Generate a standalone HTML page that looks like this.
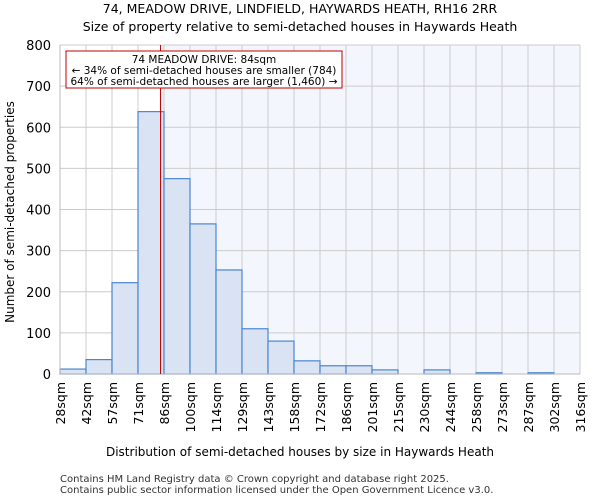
<!DOCTYPE html>
<html><head><meta charset="utf-8"><style>
body{margin:0;background:#fff;font-family:"DejaVu Sans","Liberation Sans",sans-serif}
</style></head><body>
<svg id="c" width="600" height="500" xmlns="http://www.w3.org/2000/svg" font-family="DejaVu Sans, Liberation Sans, sans-serif">
<text x="300" y="13" text-anchor="middle" font-size="12.5">74, MEADOW DRIVE, LINDFIELD, HAYWARDS HEATH, RH16 2RR</text>
<text x="300" y="31" text-anchor="middle" font-size="12.5">Size of property relative to semi-detached houses in Haywards Heath</text>
<g id="plot"></g>
<text x="300" y="456" text-anchor="middle" font-size="12">Distribution of semi-detached houses by size in Haywards Heath</text>
<text transform="translate(14,212) rotate(-90)" text-anchor="middle" font-size="12">Number of semi-detached properties</text>
<text x="60" y="482" font-size="10" fill="#333">Contains HM Land Registry data © Crown copyright and database right 2025.</text>
<text x="60" y="493" font-size="10" fill="#333">Contains public sector information licensed under the Open Government Licence v3.0.</text>
</svg>
<script>
const edges=[28,42,57,71,86,100,114,129,143,158,172,186,201,215,230,244,258,273,287,302,316];
const tickLabels=["28sqm","42sqm","57sqm","71sqm","86sqm","100sqm","114sqm","129sqm","143sqm","158sqm","172sqm","186sqm","201sqm","215sqm","230sqm","244sqm","258sqm","273sqm","287sqm","302sqm","316sqm"];
const counts=[12,35,222,638,475,365,253,110,80,32,20,20,10,0,10,0,3,0,3,0];
const yTicks=[0,100,200,300,400,500,600,700,800];
const propertySize=84;
const X0=60,X1=580,Y0=374,Y1=45,YMAX=800;
const n=counts.length;
const xi=i=>X0+(X1-X0)*i/n;
const xv=v=>{let i=0;while(i<n-1&&v>edges[i+1])i++;return xi(i)+(v-edges[i])/(edges[i+1]-edges[i])*(X1-X0)/n;};
const y=v=>Y0-(Y0-Y1)*v/YMAX;
const NS="http://www.w3.org/2000/svg";
const g=document.getElementById('plot');
function mk(t,a){const e=document.createElementNS(NS,t);for(const k in a)e.setAttribute(k,a[k]);g.appendChild(e);return e;}
const px=xv(propertySize);
let e=mk('rect',{x:px,y:Y1,width:X1-px,height:Y0-Y1,fill:'#f3f6fd'});


for(let i=0;i<=n;i++){e=mk('line',{x1:xi(i),x2:xi(i),y1:Y1,y2:Y0,stroke:'#cccccc'});

}
yTicks.forEach(t=>{e=mk('line',{x1:X0,x2:X1,y1:y(t),y2:y(t),stroke:'#cccccc'});


e=mk('text',{x:X0-9,y:y(t)+5,'text-anchor':'end','font-size':'13'});e.textContent=t;

});
counts.forEach((c,i)=>{if(c<=0)return;e=mk('rect',{x:xi(i),y:y(c),width:xi(i+1)-xi(i),height:Y0-y(c),fill:'#dae3f4',stroke:'#4a86d0','stroke-width':1.2});

});
tickLabels.forEach((l,i)=>{e=mk('text',{transform:`translate(${xi(i)+5},382) rotate(-90)`,'text-anchor':'end','font-size':'12.5'});e.textContent=l;

});
e=mk('line',{x1:X0,x2:X0,y1:Y1,y2:Y0,stroke:'#bbb'});


e=mk('line',{x1:X0,x2:X1,y1:Y0,y2:Y0,stroke:'#bbb'});


e=mk('line',{x1:px,x2:px,y1:Y1,y2:Y0,stroke:'#c00000','stroke-width':1});


e=mk('rect',{x:66,y:51,width:276,height:37,fill:'#fff',stroke:'#c00000','stroke-width':1});


["74 MEADOW DRIVE: 84sqm","← 34% of semi-detached houses are smaller (784)","64% of semi-detached houses are larger (1,460) →"].forEach((t,i)=>{e=mk('text',{x:204,y:63+i*11,'text-anchor':'middle','font-size':'10.5'});e.textContent=t;

});
</script>
</body></html>
